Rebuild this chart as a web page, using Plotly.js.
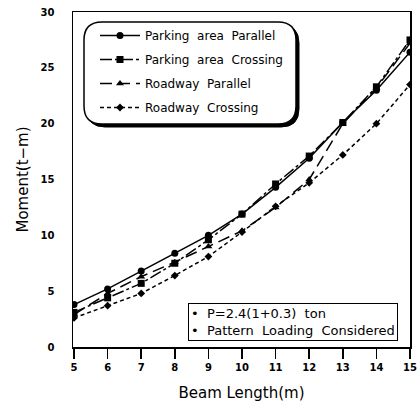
<!DOCTYPE html>
<html><head><meta charset="utf-8">
<script src="https://cdn.plot.ly/plotly-3.0.1.min.js"></script>
<style>html,body{margin:0;padding:0;background:#fff}#c{width:419px;height:402px}</style>
</head><body><div id="c"></div>
<script>
const beamLength = [5, 6, 7, 8, 9, 10, 11, 12, 13, 14, 15];
const parkingParallel = [3.8, 5.2, 6.8, 8.4, 10.0, 11.9, 14.3, 16.9, 20.1, 23.0, 26.4];
const parkingCrossing = [3.1, 4.4, 5.7, 7.5, 9.6, 11.9, 14.6, 17.1, 20.1, 23.3, 27.5];
const roadwayParallel = [2.9, 4.8, 6.3, 7.6, 9.0, 10.4, 12.5, 15.0, 20.0, 23.2, 27.2];
const roadwayCrossing = [2.6, 3.7, 4.8, 6.4, 8.1, 10.3, 12.6, 14.7, 17.2, 20.0, 23.5];
const seriesNames = ['Parking area Parallel', 'Parking area Crossing', 'Roadway Parallel', 'Roadway Crossing'];
const xTicks = [5, 6, 7, 8, 9, 10, 11, 12, 13, 14, 15];
const yTicks = [0, 5, 10, 15, 20, 25, 30];
const noteLines = ['• P=2.4(1+0.3) ton', '• Pattern Loading Considered'];

const F = 'DejaVu Sans, sans-serif';
const wide = s => s.split(' ').join('\u00a0\u00a0');
function tr(y, name, sym, size, dash, g) {
  return {x: beamLength, y: y, name: wide(name), type: 'scatter', mode: 'lines+markers',
    legendgroup: g,
    line: {color: '#000', width: 1.5, dash: dash},
    marker: {symbol: sym, size: size, color: '#000'}};
}
const data = [
  tr(parkingParallel, seriesNames[0], 'circle', 7, 'solid', 'a'),
  tr(parkingCrossing, seriesNames[1], 'square', 7, '12px,3px,3px,3px', 'b'),
  tr(roadwayParallel, seriesNames[2], 'triangle-up', 7, '12px,6px', 'c'),
  tr(roadwayCrossing, seriesNames[3], 'diamond', 6, '4px,3px', 'd')
];

const px = v => (v - 73) / 337, py = v => (347 - v) / 335;
function rr(x0, y0, x1, y1, r) {
  return `M${px(x0 + r)},${py(y0)} L${px(x1 - r)},${py(y0)} Q${px(x1)},${py(y0)} ${px(x1)},${py(y0 + r)} ` +
    `L${px(x1)},${py(y1 - r)} Q${px(x1)},${py(y1)} ${px(x1 - r)},${py(y1)} L${px(x0 + r)},${py(y1)} ` +
    `Q${px(x0)},${py(y1)} ${px(x0)},${py(y1 - r)} L${px(x0)},${py(y0 + r)} Q${px(x0)},${py(y0)} ${px(x0 + r)},${py(y0)} Z`;
}

const layout = {
  width: 419, height: 402,
  margin: {l: 73, r: 9, t: 12, b: 55},
  paper_bgcolor: '#fff', plot_bgcolor: '#fff',
  showlegend: true,
  legend: {x: px(95), y: py(21), xanchor: 'left', yanchor: 'top', xref: 'paper', yref: 'paper',
    bgcolor: 'rgba(0,0,0,0)', borderwidth: 0, traceorder: 'grouped', tracegroupgap: 5,
    itemwidth: 40, font: {family: F, size: 12, color: '#000'}},
  xaxis: {range: [4.97, 15], tickvals: xTicks, ticktext: xTicks.map(String),
    showgrid: false, zeroline: false, showline: true, linecolor: '#000', linewidth: 1.5, mirror: true,
    ticks: 'outside', ticklen: 10, tickwidth: 1.5, tickcolor: '#000',
    tickfont: {family: F, size: 10, color: '#000', weight: 'bold'},
    title: {text: 'Beam Length(m)', font: {family: F, size: 15, color: '#000'}, standoff: 17}},
  yaxis: {range: [0, 30], tickvals: yTicks, ticktext: yTicks.map(String),
    showgrid: false, zeroline: false, showline: true, linecolor: '#000', linewidth: 1.5, mirror: true,
    ticks: '', ticklabelstandoff: 15,
    tickfont: {family: F, size: 10, color: '#000', weight: 'bold'},
    title: {text: 'Moment(t−m)', font: {family: F, size: 15, color: '#000'}, standoff: 8}},
  shapes: [
    {type: 'path', xref: 'paper', yref: 'paper', path: rr(87, 25, 299, 127, 18), fillcolor: '#000', line: {color: '#000', width: 1}, layer: 'below'},
    {type: 'path', xref: 'paper', yref: 'paper', path: rr(84, 22, 296, 124, 18), fillcolor: '#fff', line: {color: '#000', width: 1.5}, layer: 'below'}
  ],
  annotations: [
    {xref: 'paper', yref: 'paper', x: px(398), y: py(341), xanchor: 'right', yanchor: 'bottom',
      text: noteLines.map(wide).join('<br>'), align: 'left', showarrow: false,
      bordercolor: '#000', borderwidth: 1, borderpad: 2, bgcolor: '#fff',
      font: {family: F, size: 13, color: '#000'}}
  ]
};
Plotly.newPlot('c', data, layout, {displayModeBar: false, staticPlot: true});
</script></body></html>
